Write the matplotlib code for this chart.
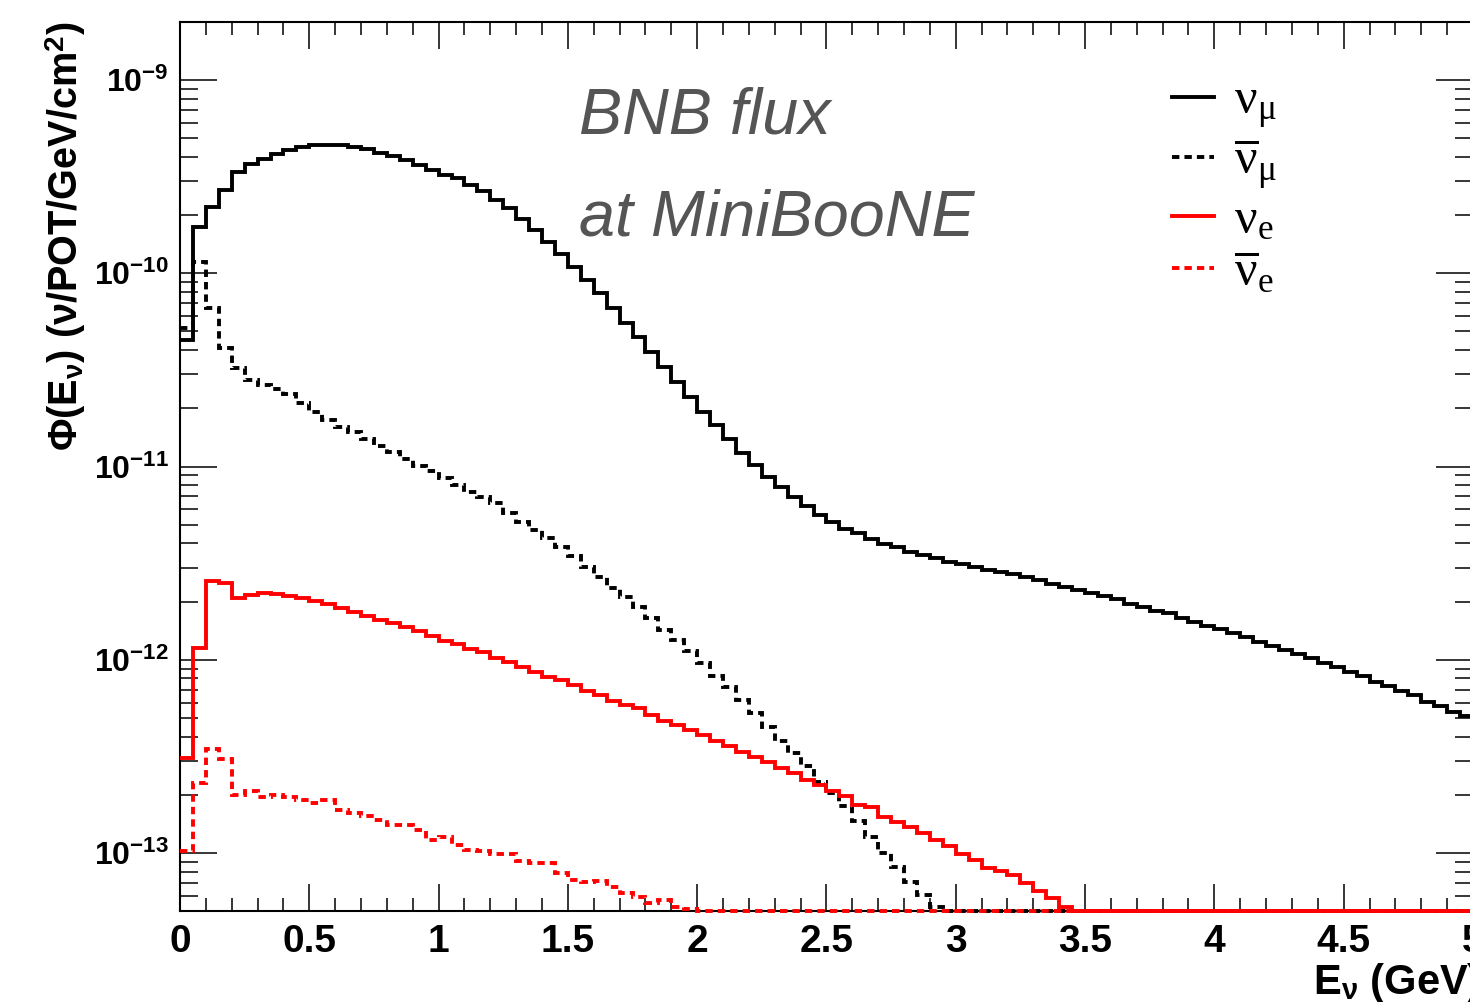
import numpy as np
import matplotlib
matplotlib.use("Agg")
import matplotlib.pyplot as plt
from matplotlib.lines import Line2D
from matplotlib.ticker import LogLocator, MultipleLocator, FuncFormatter, NullFormatter

plt.rcParams['font.family'] = ['Liberation Sans', 'DejaVu Sans']
plt.rcParams['mathtext.fontset'] = 'custom'
plt.rcParams['mathtext.rm'] = 'Liberation Serif'
plt.rcParams['mathtext.it'] = 'Liberation Serif:italic'
plt.rcParams['mathtext.bf'] = 'Liberation Sans:bold'
plt.rcParams['mathtext.sf'] = 'Liberation Sans'

# 100 bins of 0.05 GeV from 0 to 5 GeV
bin_width = 0.05
edges = np.arange(101) * bin_width

# flux in nu/POT/GeV/cm^2
numu = [4.51e-11, 1.74e-10, 2.21e-10, 2.70e-10, 3.33e-10, 3.68e-10, 3.93e-10, 4.14e-10, 4.34e-10, 4.50e-10,
        4.59e-10, 4.61e-10, 4.61e-10, 4.52e-10, 4.38e-10, 4.20e-10, 4.04e-10, 3.85e-10, 3.63e-10, 3.42e-10,
        3.22e-10, 3.11e-10, 2.86e-10, 2.67e-10, 2.39e-10, 2.17e-10, 1.92e-10, 1.67e-10, 1.46e-10, 1.26e-10,
        1.08e-10, 9.23e-11, 7.87e-11, 6.58e-11, 5.55e-11, 4.66e-11, 3.93e-11, 3.28e-11, 2.75e-11, 2.30e-11,
        1.92e-11, 1.64e-11, 1.38e-11, 1.18e-11, 1.02e-11, 8.86e-12, 7.86e-12, 6.98e-12, 6.25e-12, 5.61e-12,
        5.18e-12, 4.73e-12, 4.51e-12, 4.20e-12, 3.97e-12, 3.85e-12, 3.62e-12, 3.48e-12, 3.35e-12, 3.19e-12,
        3.12e-12, 3.01e-12, 2.91e-12, 2.85e-12, 2.78e-12, 2.67e-12, 2.59e-12, 2.47e-12, 2.37e-12, 2.30e-12,
        2.22e-12, 2.14e-12, 2.06e-12, 1.94e-12, 1.87e-12, 1.79e-12, 1.74e-12, 1.64e-12, 1.57e-12, 1.50e-12,
        1.44e-12, 1.37e-12, 1.31e-12, 1.24e-12, 1.18e-12, 1.12e-12, 1.07e-12, 1.02e-12, 9.58e-13, 9.20e-13,
        8.67e-13, 8.24e-13, 7.70e-13, 7.31e-13, 6.92e-13, 6.57e-13, 6.07e-13, 5.76e-13, 5.38e-13, 5.12e-13]

numubar = [5.19e-11, 1.14e-10, 6.58e-11, 4.09e-11, 3.22e-11, 2.80e-11, 2.64e-11, 2.51e-11, 2.36e-11, 2.12e-11,
           1.92e-11, 1.74e-11, 1.61e-11, 1.50e-11, 1.38e-11, 1.27e-11, 1.19e-11, 1.10e-11, 1.01e-11, 9.51e-12,
           8.69e-12, 8.02e-12, 7.41e-12, 6.95e-12, 6.45e-12, 5.77e-12, 5.18e-12, 4.69e-12, 4.25e-12, 3.82e-12,
           3.44e-12, 3.03e-12, 2.69e-12, 2.34e-12, 2.10e-12, 1.87e-12, 1.64e-12, 1.43e-12, 1.27e-12, 1.11e-12,
           9.58e-13, 8.24e-13, 7.20e-13, 6.19e-13, 5.28e-13, 4.50e-13, 3.80e-13, 3.28e-13, 2.80e-13, 2.34e-13,
           2.04e-13, 1.74e-13, 1.47e-13, 1.21e-13, 9.96e-14, 8.49e-14, 7.10e-14, 6.06e-14, 5.27e-14] + [0.0] * 41

nue = [3.09e-13, 1.15e-12, 2.56e-12, 2.49e-12, 2.08e-12, 2.16e-12, 2.21e-12, 2.19e-12, 2.14e-12, 2.08e-12,
       2.01e-12, 1.94e-12, 1.85e-12, 1.76e-12, 1.69e-12, 1.61e-12, 1.55e-12, 1.48e-12, 1.40e-12, 1.33e-12,
       1.25e-12, 1.21e-12, 1.14e-12, 1.10e-12, 1.02e-12, 9.70e-13, 9.14e-13, 8.67e-13, 8.11e-13, 7.85e-13,
       7.40e-13, 6.92e-13, 6.57e-13, 6.14e-13, 5.83e-13, 5.61e-13, 5.18e-13, 4.84e-13, 4.60e-13, 4.33e-13,
       4.08e-13, 3.81e-13, 3.58e-13, 3.34e-13, 3.13e-13, 2.97e-13, 2.74e-13, 2.58e-13, 2.39e-13, 2.25e-13,
       2.10e-13, 1.96e-13, 1.77e-13, 1.72e-13, 1.54e-13, 1.45e-13, 1.36e-13, 1.26e-13, 1.16e-13, 1.09e-13,
       9.88e-14, 9.20e-14, 8.33e-14, 8.10e-14, 7.69e-14, 7.02e-14, 6.38e-14, 5.83e-14, 5.27e-14] + [0.0] * 31

nuebar = [1.02e-13, 2.31e-13, 3.44e-13, 3.05e-13, 2.00e-13, 2.10e-13, 1.94e-13, 2.00e-13, 1.94e-13, 1.88e-13,
          1.81e-13, 1.88e-13, 1.67e-13, 1.60e-13, 1.56e-13, 1.48e-13, 1.40e-13, 1.40e-13, 1.32e-13, 1.17e-13,
          1.21e-13, 1.10e-13, 1.03e-13, 1.02e-13, 9.88e-14, 9.85e-14, 9.12e-14, 8.84e-14, 8.84e-14, 7.91e-14,
          7.25e-14, 7.10e-14, 7.17e-14, 6.64e-14, 6.23e-14, 5.90e-14, 5.49e-14, 5.71e-14, 5.24e-14, 5.11e-14] + [0.0] * 60

labels = [r'$\mathrm{ν}_{\mathrm{μ}}$', r'$\overline{\mathrm{ν}}_{\mathrm{μ}}$',
          r'$\mathrm{ν}_{\mathrm{e}}$', r'$\overline{\mathrm{ν}}_{\mathrm{e}}$']

ylo, yhi = 5e-14, 2e-9
dash = (0, (1.9, 1.3))
styles = [('black', '-'), ('black', dash), ('#ff0000', '-'), ('#ff0000', dash)]

fig = plt.figure(figsize=(14.7, 10.02), dpi=100)
ax = fig.add_axes([180 / 1470, 91 / 1002, 1 - 180 / 1470 + 0.002, (911 - 22) / 1002])

handles = []
for i, (vals, (col, ls)) in enumerate(zip([numu, numubar, nue, nuebar], styles)):
    # empty bins sit on the floor of the log axis, as ROOT draws them
    v = np.clip(np.array(vals), ylo, None)
    ax.stairs(v, edges, baseline=None, color=col, linestyle=ls, lw=2.8,
              clip_on=False, zorder=3 + i)
    handles.append(Line2D([], [], color=col, linestyle=ls, lw=2.8))

ax.set_yscale('log')
ax.set_xlim(0, 5)
ax.set_ylim(ylo, yhi)

ax.xaxis.set_major_locator(MultipleLocator(0.5))
ax.xaxis.set_minor_locator(MultipleLocator(0.1))
ax.xaxis.set_major_formatter(FuncFormatter(lambda v, p: '%g' % v))
ax.yaxis.set_major_locator(LogLocator(base=10))
ax.yaxis.set_minor_locator(LogLocator(base=10, subs=np.arange(2, 10)))
ax.yaxis.set_major_formatter(FuncFormatter(lambda v, p: r'$\mathbf{10^{%d}}$' % round(np.log10(v))))
ax.yaxis.set_minor_formatter(NullFormatter())

ax.tick_params(which='both', direction='in', top=True, right=True, width=1.1)
ax.tick_params(axis='x', which='major', length=19.5, labelsize=28, pad=9)
ax.tick_params(axis='x', which='minor', length=9.5)
ax.tick_params(axis='y', which='major', length=26.5, labelsize=23, pad=8)
ax.tick_params(axis='y', which='minor', length=13)
for lab in ax.get_xticklabels():
    lab.set_fontweight('bold')
for s in ax.spines.values():
    s.set_linewidth(1.5)

ax.set_xlabel('E$_{\\mathbf{ν}}$ (GeV)', fontsize=30, fontweight='bold', loc='right')
ax.xaxis.set_label_coords(1.006, -0.056)
ax.set_ylabel('Φ(E$_{\\mathbf{ν}}$) (ν/POT/GeV/cm$^{\\mathbf{2}}$)', fontsize=28.5,
              fontweight='bold', loc='top')
ax.yaxis.set_label_coords(-0.071, 1.0)

ax.text(0.3085, 0.875, 'BNB flux', transform=ax.transAxes, fontsize=46.5,
        style='italic', color='#555555', va='baseline')
ax.text(0.3085, 0.760, 'at MiniBooNE', transform=ax.transAxes, fontsize=46.5,
        style='italic', color='#555555', va='baseline')

ax.legend(handles, labels, loc='upper left', bbox_to_anchor=(0.767, 0.937),
          frameon=False, fontsize=36, handlelength=0.85, handletextpad=0.4,
          labelspacing=0.12, borderpad=0, borderaxespad=0)

fig.savefig('out.png', dpi=100)
